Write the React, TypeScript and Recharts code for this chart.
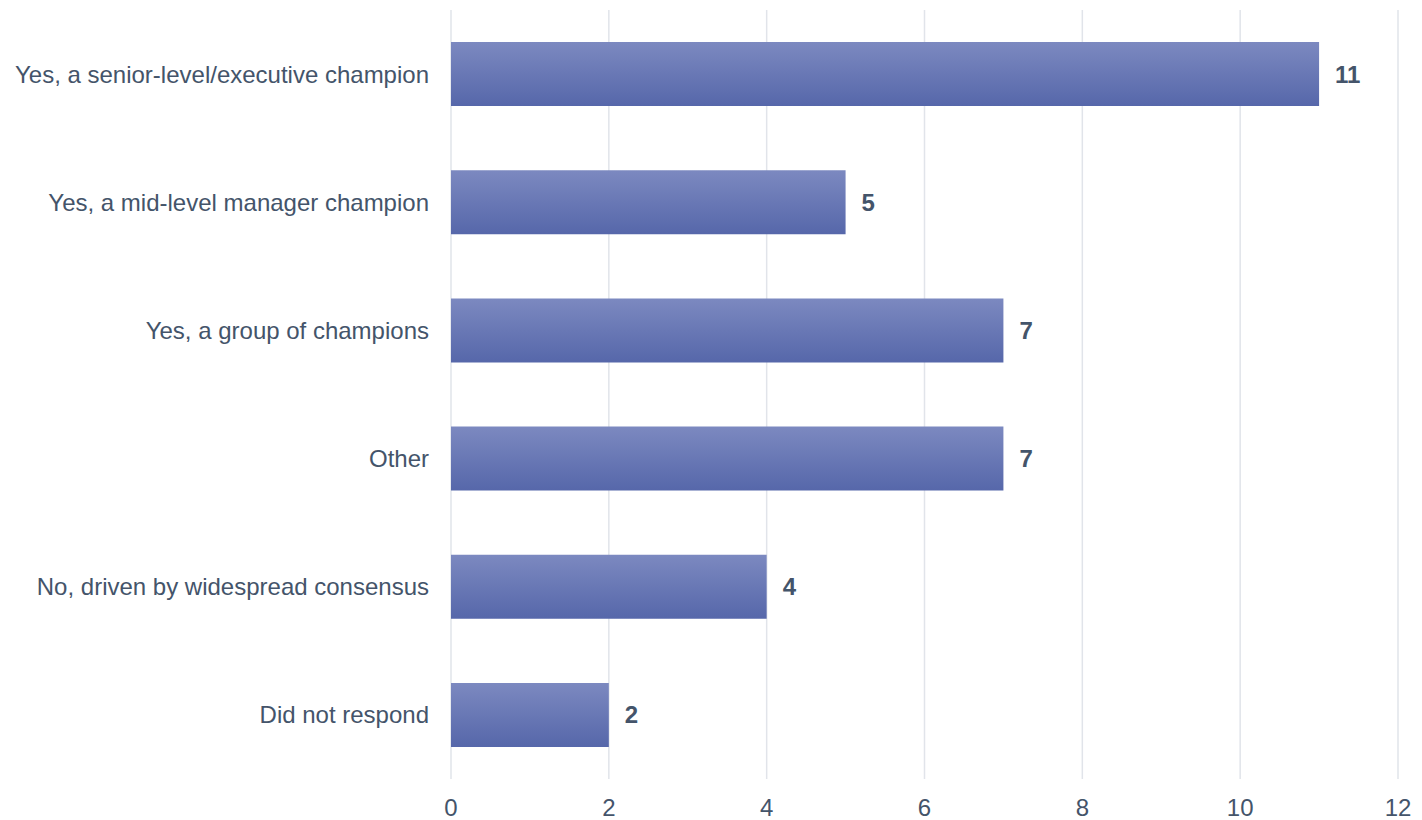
import React from 'react';
import { BarChart, Bar, XAxis, YAxis, CartesianGrid, LabelList } from 'recharts';

const categories = [
  'Yes, a senior-level/executive champion',
  'Yes, a mid-level manager champion',
  'Yes, a group of champions',
  'Other',
  'No, driven by widespread consensus',
  'Did not respond',
];
const counts = [11, 5, 7, 7, 4, 2];
const xTicks = [0, 2, 4, 6, 8, 10, 12];

const data = categories.map((name, i) => ({ name, value: counts[i] }));

const textColor = '#44546a';
const font = '"Liberation Sans", Arial, sans-serif';

export default function App() {
  return (
    <div style={{ width: 1406, height: 812, fontFamily: font }}>
      <BarChart
        width={1406}
        height={812}
        data={data}
        layout="vertical"
        margin={{ top: 2, right: 16, left: 0, bottom: 0 }}
        barCategoryGap="25%"
      >
        <defs>
          <linearGradient id="barFill" x1="0" y1="0" x2="0" y2="1">
            <stop offset="0%" stopColor="#7c89c0" />
            <stop offset="100%" stopColor="#5667aa" />
          </linearGradient>
        </defs>
        <CartesianGrid horizontal={false} stroke="#e1e4ea" strokeWidth={1.5} />
        <XAxis
          type="number"
          domain={[0, 12]}
          ticks={xTicks}
          axisLine={false}
          tickLine={false}
          tickSize={0}
          tickMargin={20}
          height={41}
          interval={0}
          tick={{ fill: textColor, fontSize: 24, fontFamily: font }}
        />
        <YAxis
          type="category"
          dataKey="name"
          width={443}
          axisLine={false}
          tickLine={false}
          tickSize={0}
          tickMargin={22}
          interval={0}
          tick={{ fill: textColor, fontSize: 24, fontFamily: font }}
        />
        <Bar dataKey="value" fill="url(#barFill)" isAnimationActive={false}>
          <LabelList
            dataKey="value"
            position="right"
            offset={16}
            fill={textColor}
            fontSize={24}
            fontWeight="bold"
            fontFamily={font}
          />
        </Bar>
      </BarChart>
    </div>
  );
}
